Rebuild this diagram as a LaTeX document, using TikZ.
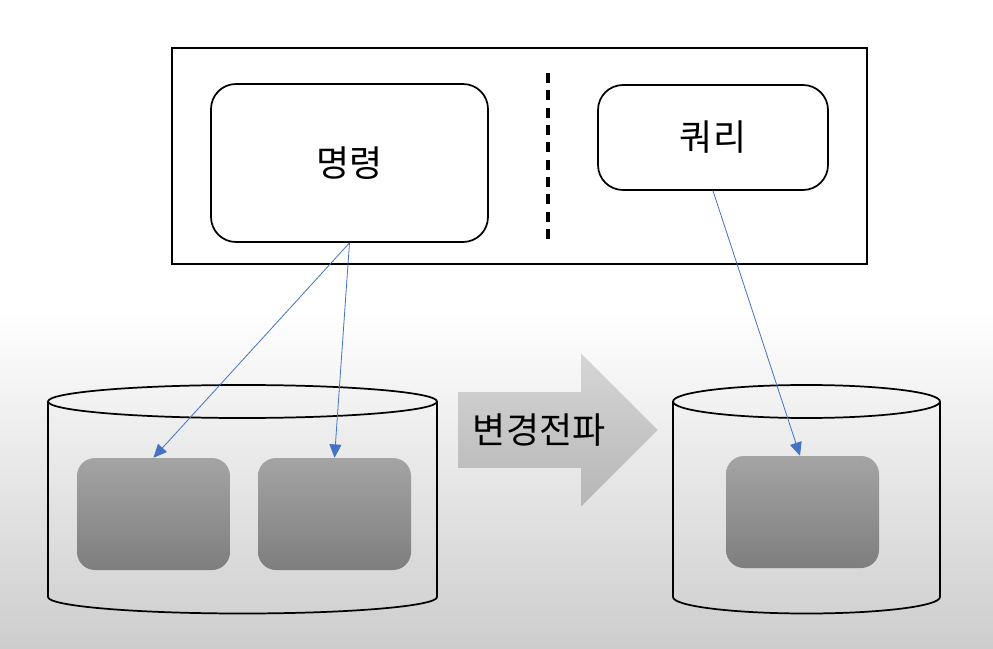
\documentclass[tikz,border=0pt]{standalone}
\usepackage{fontspec}
\newfontfamily\kr{Noto Sans CJK KR}
\usepackage{tikz}
\usetikzlibrary{positioning,shapes.arrows,arrows.meta,calc}
\definecolor{ink}     {HTML}{000000}
\definecolor{link}    {HTML}{4472C4}
\definecolor{bgdark}  {HTML}{CDCDCD}
\definecolor{boxtop}  {HTML}{A4A4A4}
\definecolor{boxbot}  {HTML}{7E7E7E}
\definecolor{flowtop} {HTML}{D6D6D6}
\definecolor{flowbot} {HTML}{B6B6B6}
\tikzset{
  % --- nodes
  part/.style  = {rounded corners=18.75pt, draw=ink, fill=white, line width=1.3pt,
                  font=\kr\fontsize{27}{30}\selectfont},
  store/.style = {rounded corners=13.5pt, minimum width=114.75pt, minimum height=84pt,
                  top color=boxtop, bottom color=boxbot, draw=none},
  flow/.style  = {single arrow, single arrow head extend=28.9pt, single arrow head indent=0pt,
                  top color=flowtop, bottom color=flowbot, draw=none, inner xsep=4pt,
                  inner ysep=16pt, minimum height=149.25pt,
                  font=\kr\fontsize{27}{30}\selectfont},
  % --- edges
  cyl/.style   = {draw=ink, line width=1.3pt},
  e/.style     = {-{Triangle[width=9pt,length=10pt]}, draw=link, line width=0.6pt},
}
\begin{document}
\begin{tikzpicture}[x=0.75pt,y=-0.75pt]
  \useasboundingbox (0,0) rectangle (993,649);
  \fill[white] (0,0) rectangle (993,649);
  \shade[top color=white, bottom color=bgdark] (0,310) rectangle (993,649);
  % frame with both sides
  \draw[fill=white, line width=1.1pt] (172,48) rectangle (867,264);
  \draw[line width=2.4pt, dash pattern=on 7.5pt off 5.5pt] (548,73) -- (548,246);
  \node[part, minimum width=207.75pt, minimum height=118.5pt] (cmd) at (349.5,163) {명령};
  \node[part, minimum width=172.5pt, minimum height=78.75pt] (qry) at (713,137.5) {쿼리};
  % stores
  \draw[cyl] (242.5,401.5) ellipse [x radius=145.875pt, y radius=12.375pt];
  \draw[cyl] (48,401.5) -- (48,597) arc [start angle=180, end angle=360,
    x radius=145.875pt, y radius=12.375pt] -- (437,401.5);
  \draw[cyl] (806.5,401.5) ellipse [x radius=100.125pt, y radius=12.375pt];
  \draw[cyl] (673,401.5) -- (673,597) arc [start angle=180, end angle=360,
    x radius=100.125pt, y radius=12.375pt] -- (940,401.5);
  \node[store] (cmdA) at (153.5,514) {};
  \node[store] (cmdB) at (334.5,514) {};
  \node[store] (qryA) at (802.5,512) {};
  \node[flow, anchor=tip] (sync) at (658,430) {변경전파};
  % links
  \draw[e] (cmd.south) -- (cmdA.north);
  \draw[e] (cmd.south) -- (cmdB.north);
  \draw[e] (qry.south) -- (qryA.north -| 800,0);
\end{tikzpicture}
\end{document}
